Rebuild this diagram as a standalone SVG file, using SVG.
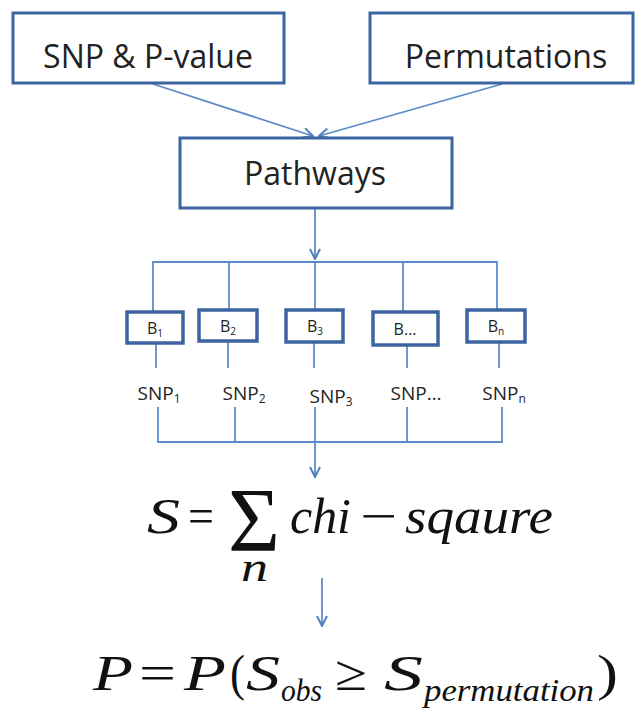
<svg xmlns="http://www.w3.org/2000/svg" width="635" height="710" viewBox="0 0 635 710">
<defs>
<marker id="arr" viewBox="0 0 12 12" refX="11" refY="6" markerWidth="12" markerHeight="12" markerUnits="userSpaceOnUse" orient="auto">
<path d="M1,1 L11,6 L1,11" fill="none" stroke="#4f81bd" stroke-width="2"/>
</marker>
<style>
.box{fill:#ffffff;stroke:#3b64a0;stroke-width:3}
.bbox{fill:#ffffff;stroke:#3b64a0;stroke-width:3.5}
.lbl{font-family:"Open Sans","Liberation Sans",sans-serif;fill:#222222;text-anchor:middle}
.big{font-size:32px}
.sm{font-size:16px}
.snp{font-size:19px}
.ln{fill:none;stroke:#5b8bc9;stroke-width:1.8}
.math{font-family:"Liberation Serif","Times New Roman",serif;fill:#111111}
.it{font-style:italic}
</style>
</defs>
<rect width="635" height="710" fill="#ffffff"/>

<g id="connectors">
<line class="ln" x1="153" y1="84" x2="313" y2="136" marker-end="url(#arr)"/>
<line class="ln" x1="502" y1="84" x2="319" y2="136" marker-end="url(#arr)"/>
<line class="ln" x1="315" y1="208" x2="315" y2="259" marker-end="url(#arr)"/>
<polyline class="ln" points="153,311 153,262 497,262 497,310"/>
<line class="ln" x1="229" y1="262" x2="229" y2="310"/>
<line class="ln" x1="315" y1="262" x2="315" y2="310"/>
<line class="ln" x1="403" y1="262" x2="403" y2="312"/>
<line class="ln" x1="156" y1="343" x2="156" y2="368"/>
<line class="ln" x1="228" y1="341" x2="228" y2="368"/>
<line class="ln" x1="314" y1="342" x2="314" y2="368"/>
<line class="ln" x1="407" y1="345" x2="407" y2="368"/>
<line class="ln" x1="499" y1="342" x2="499" y2="368"/>
<polyline class="ln" points="158,407 158,442 502,442 502,407"/>
<line class="ln" x1="235" y1="407" x2="235" y2="442"/>
<line class="ln" x1="315" y1="407" x2="315" y2="442"/>
<line class="ln" x1="407" y1="407" x2="407" y2="442"/>
<line class="ln" x1="315" y1="442" x2="315" y2="477" marker-end="url(#arr)"/>
<line class="ln" x1="322" y1="578" x2="322" y2="626" marker-end="url(#arr)"/>
</g>

<g id="snp-pvalue">
<rect class="box" x="13" y="13" width="271" height="70"/>
<text class="lbl big" x="148" y="68">SNP &amp; P-value</text>
</g>
<g id="permutations">
<rect class="box" x="370" y="13" width="263" height="70"/>
<text class="lbl big" x="506" y="68">Permutations</text>
</g>
<g id="pathways">
<rect class="box" x="180" y="138" width="272" height="70"/>
<text class="lbl big" x="315" y="185">Pathways</text>
</g>

<g id="b1">
<rect class="bbox" x="127" y="312" width="56" height="31"/>
<text class="lbl sm" x="155" y="334">B<tspan font-size="10" dy="3">1</tspan></text>
</g>
<g id="b2">
<rect class="bbox" x="199" y="310" width="58" height="31"/>
<text class="lbl sm" x="228" y="332">B<tspan font-size="10" dy="3">2</tspan></text>
</g>
<g id="b3">
<rect class="bbox" x="286" y="310" width="57" height="32"/>
<text class="lbl sm" x="315" y="332">B<tspan font-size="10" dy="3">3</tspan></text>
</g>
<g id="bdots">
<rect class="bbox" x="373" y="312" width="65" height="33"/>
<text class="lbl sm" x="405" y="335">B…</text>
</g>
<g id="bn">
<rect class="bbox" x="467" y="310" width="58" height="32"/>
<text class="lbl sm" x="496" y="332">B<tspan font-size="10" dy="3">n</tspan></text>
</g>

<g id="snp1"><text class="lbl snp" x="159" y="400">SNP<tspan font-size="12" dy="3">1</tspan></text></g>
<g id="snp2"><text class="lbl snp" x="244" y="400">SNP<tspan font-size="12" dy="3">2</tspan></text></g>
<g id="snp3"><text class="lbl snp" x="331" y="403">SNP<tspan font-size="12" dy="3">3</tspan></text></g>
<g id="snpdots"><text class="lbl snp" x="416" y="400">SNP…</text></g>
<g id="snpn"><text class="lbl snp" x="504" y="400">SNP<tspan font-size="12" dy="3">n</tspan></text></g>

<g id="formula-s">
<text class="math it" x="147" y="533" font-size="50" textLength="33" lengthAdjust="spacingAndGlyphs">S</text>
<text class="math" x="188" y="533" font-size="50" textLength="26" lengthAdjust="spacingAndGlyphs">=</text>
<text class="math" x="228" y="551" font-size="92" textLength="52" lengthAdjust="spacingAndGlyphs">Σ</text>
<text class="math it" x="241" y="581" font-size="42" textLength="27" lengthAdjust="spacingAndGlyphs">n</text>
<text class="math it" x="290" y="533" font-size="50" textLength="61" lengthAdjust="spacingAndGlyphs">chi</text>
<text class="math" x="360" y="533" font-size="50" textLength="37" lengthAdjust="spacingAndGlyphs">−</text>
<text class="math it" x="405" y="533" font-size="50" textLength="148" lengthAdjust="spacingAndGlyphs">sqaure</text>
</g>

<g id="formula-p">
<text class="math it" x="93" y="690" font-size="50" textLength="40" lengthAdjust="spacingAndGlyphs">P</text>
<text class="math" x="139" y="690" font-size="50" textLength="37" lengthAdjust="spacingAndGlyphs">=</text>
<text class="math it" x="184" y="690" font-size="50" textLength="42" lengthAdjust="spacingAndGlyphs">P</text>
<text class="math" x="230" y="690" font-size="50" textLength="15" lengthAdjust="spacingAndGlyphs">(</text>
<text class="math it" x="246" y="690" font-size="50" textLength="34" lengthAdjust="spacingAndGlyphs">S</text>
<text class="math it" x="281" y="701" font-size="31" textLength="41" lengthAdjust="spacingAndGlyphs">obs</text>
<text class="math" x="335" y="690" font-size="50" textLength="32" lengthAdjust="spacingAndGlyphs">≥</text>
<text class="math it" x="384" y="690" font-size="50" textLength="39" lengthAdjust="spacingAndGlyphs">S</text>
<text class="math it" x="424" y="701" font-size="31" textLength="170" lengthAdjust="spacingAndGlyphs">permutation</text>
<text class="math" x="597" y="690" font-size="50" textLength="21" lengthAdjust="spacingAndGlyphs">)</text>
</g>
</svg>
